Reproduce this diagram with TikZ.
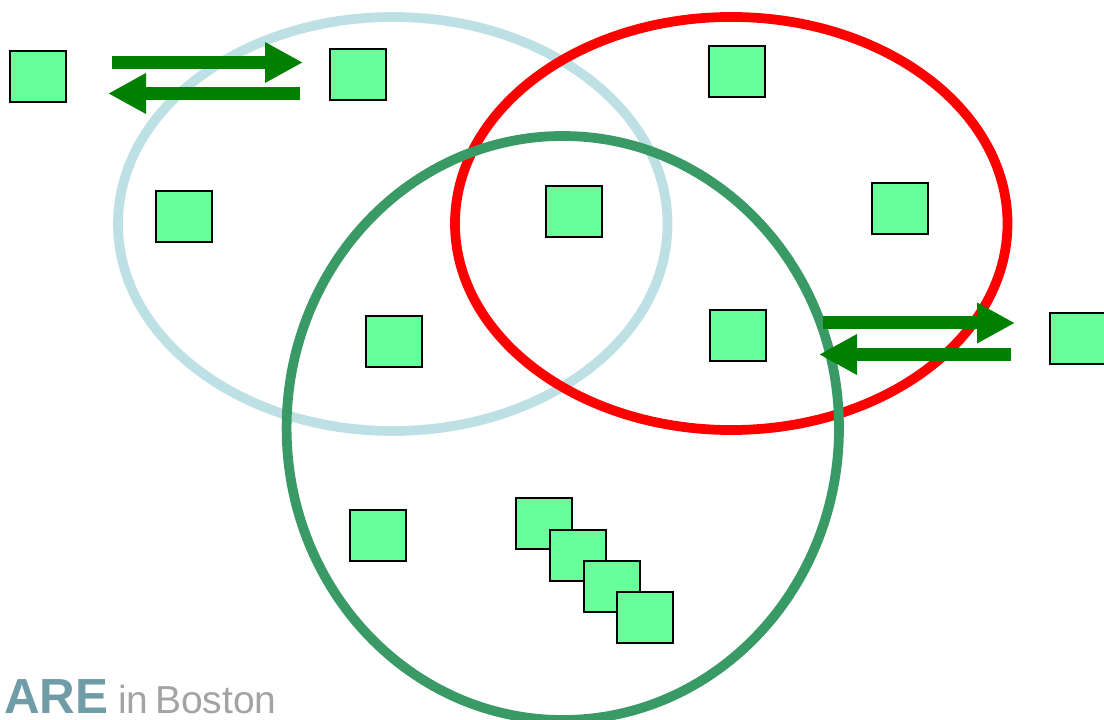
\documentclass[tikz,border=0pt]{standalone}
\usepackage{fontspec}
\newfontfamily\arialfont{Liberation Sans}
\usetikzlibrary{arrows.meta}
\definecolor{sqfill}{HTML}{66FF99}
\definecolor{ltblue}{HTML}{BCE0E4}
\definecolor{dkgreen}{HTML}{399A66}
\definecolor{arrgreen}{HTML}{008000}
\definecolor{aretxt}{HTML}{6F9CA6}
\definecolor{bostxt}{HTML}{A3A3A3}
\tikzset{
  sq/.style={draw=black, line width=1.5pt, fill=sqfill, minimum width=42pt, minimum height=38.25pt, inner sep=0pt},
  ring/.style={line width=7.3pt},
  fat/.style={draw=arrgreen, line width=9.75pt, -{Triangle[length=28.5pt,width=28.5pt]}}
}
\begin{document}
\begin{tikzpicture}[x=0.75pt,y=-0.75pt]
\useasboundingbox (0,0) rectangle (1104,720);
% ellipses
\draw[ring, ltblue] (392.75,224) ellipse [x radius=206.06pt, y radius=155.25pt];
\draw[ring, red] (731.25,223.5) ellipse [x radius=207.19pt, y radius=154.9pt];
\draw[ring, dkgreen] (562.8,428) ellipse [x radius=207.15pt, y radius=219pt];
% squares
\node[sq] (s1) at (38,77) {};
\node[sq] (s2) at (358,75) {};
\node[sq] (s3) at (737,72) {};
\node[sq] (s4) at (184,217) {};
\node[sq] (s5) at (574,212) {};
\node[sq] (s6) at (900,209) {};
\node[sq] (s7) at (394,342) {};
\node[sq] (s8) at (738,336) {};
\node[sq] (s9) at (1078,339) {};
\node[sq] (s10) at (378,535) {};
\node[sq] (k1) at (544,523.5) {};
\node[sq] (k2) at (577.5,555) {};
\node[sq] (k3) at (611.5,586.5) {};
\node[sq] (k4) at (645,617.5) {};
% arrows
\coordinate (a1s) at (112,62.5);
\coordinate (a1e) at (303,62.5);
\coordinate (a2s) at (300,93.5);
\coordinate (a2e) at (108,93.5);
\coordinate (a3s) at (823,323);
\coordinate (a3e) at (1015,323);
\coordinate (a4s) at (1011,354.5);
\coordinate (a4e) at (819,354.5);
\draw[fat] (a1s) -- (a1e);
\draw[fat] (a2s) -- (a2e);
\draw[fat] (a3s) -- (a3e);
\draw[fat] (a4s) -- (a4e);
% logo text
\node[anchor=base west, inner sep=0pt, text=aretxt] (are) at (4,713) {\arialfont\fontsize{37pt}{40pt}\selectfont\bfseries ARE};
\node[anchor=base west, inner sep=0pt, text=bostxt] (bos) at (118,713) {\arialfont\fontsize{29.25pt}{32pt}\selectfont in\,Boston};
\end{tikzpicture}
\end{document}
